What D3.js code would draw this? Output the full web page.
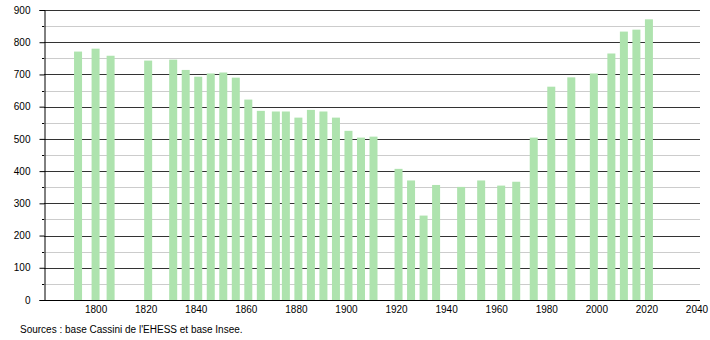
<!DOCTYPE html>
<html>
<head>
<meta charset="utf-8">
<script src="https://cdn.jsdelivr.net/npm/d3@7"></script>
<style>
  html, body { margin: 0; padding: 0; background: #fff; }
  text { font-family: "Liberation Sans", Arial, sans-serif; }
</style>
</head>
<body>
<svg id="chart" width="710" height="340"></svg>
<script>
// Census years and population values
const years = [1793, 1800, 1806, 1821, 1831, 1836, 1841, 1846, 1851, 1856, 1861, 1866, 1872, 1876, 1881, 1886, 1891, 1896, 1901, 1906, 1911, 1921, 1926, 1931, 1936, 1946, 1954, 1962, 1968, 1975, 1982, 1990, 1999, 2006, 2011, 2016, 2021];
const population = [771, 780, 758, 743, 746, 714, 693, 703, 706, 690, 622, 587, 585, 585, 566, 590, 585, 566, 525, 504, 507, 407, 371, 262, 357, 351, 371, 355, 367, 504, 662, 691, 703, 765, 833, 839, 871];
const xTicks = [1800, 1820, 1840, 1860, 1880, 1900, 1920, 1940, 1960, 1980, 2000, 2020, 2040];
const yTicks = [0, 100, 200, 300, 400, 500, 600, 700, 800, 900];
const yMinorTicks = [50, 150, 250, 350, 450, 550, 650, 750, 850];
const sourceText = "Sources : base Cassini de l'EHESS et base Insee.";

(function () {
const svg = d3.select("#chart");
const mLeft = 44, mRight = 700, mTop = 10, mBottom = 300;

const x = d3.scaleLinear().domain([1779.4, 2041.4]).range([mLeft, mRight]);
const y = d3.scaleLinear().domain([0, 900]).range([mBottom, mTop]);

// minor gridlines
svg.append("g").selectAll("line").data(yMinorTicks).join("line")
  .attr("x1", mLeft).attr("x2", mRight)
  .attr("y1", d => Math.round(y(d)) + 0.5).attr("y2", d => Math.round(y(d)) + 0.5)
  .attr("stroke", "#cccccc").attr("stroke-width", 1);

// major gridlines
svg.append("g").selectAll("line").data(yTicks.filter(d => d > 0)).join("line")
  .attr("x1", mLeft).attr("x2", mRight)
  .attr("y1", d => Math.round(y(d)) + 0.5).attr("y2", d => Math.round(y(d)) + 0.5)
  .attr("stroke", "#333333").attr("stroke-width", 1);

// bars
const barW = 8;
svg.append("g").selectAll("rect").data(years).join("rect")
  .attr("x", d => x(d) - barW / 2)
  .attr("width", barW)
  .attr("y", (d, i) => y(population[i]))
  .attr("height", (d, i) => mBottom - y(population[i]))
  .attr("fill", "#aee3ae");

// y axis
const yAxis = d3.axisLeft(y).tickValues(yTicks).tickSize(5).tickPadding(9).tickFormat(d3.format("d"));
const gy = svg.append("g").attr("transform", `translate(${mLeft + 0.5},0)`).call(yAxis);
gy.select(".domain").attr("stroke", "#000");
gy.selectAll(".tick line").attr("stroke", "#000");
gy.selectAll(".tick text").attr("font-size", 10).attr("fill", "#000")
  .attr("font-family", "'Liberation Sans', Arial, sans-serif");

// y minor ticks
svg.append("g").selectAll("line").data(yMinorTicks).join("line")
  .attr("x1", mLeft - 2).attr("x2", mLeft)
  .attr("y1", d => Math.round(y(d)) + 0.5).attr("y2", d => Math.round(y(d)) + 0.5)
  .attr("stroke", "#000");

// x axis
const xAxis = d3.axisBottom(x).tickValues(xTicks).tickSize(0).tickPadding(5).tickFormat(d3.format("d"));
const gx = svg.append("g").attr("transform", `translate(0,${mBottom + 0.5})`).call(xAxis);
gx.select(".domain").attr("stroke", "#000").attr("d", `M${mLeft},0H${mRight}`);
gx.selectAll(".tick text").attr("font-size", 10).attr("fill", "#000")
  .attr("font-family", "'Liberation Sans', Arial, sans-serif");

// source
svg.append("text").attr("x", 20).attr("y", 333)
  .attr("font-size", 10).attr("fill", "#000")
  .text(sourceText);
})();
</script>
</body>
</html>
